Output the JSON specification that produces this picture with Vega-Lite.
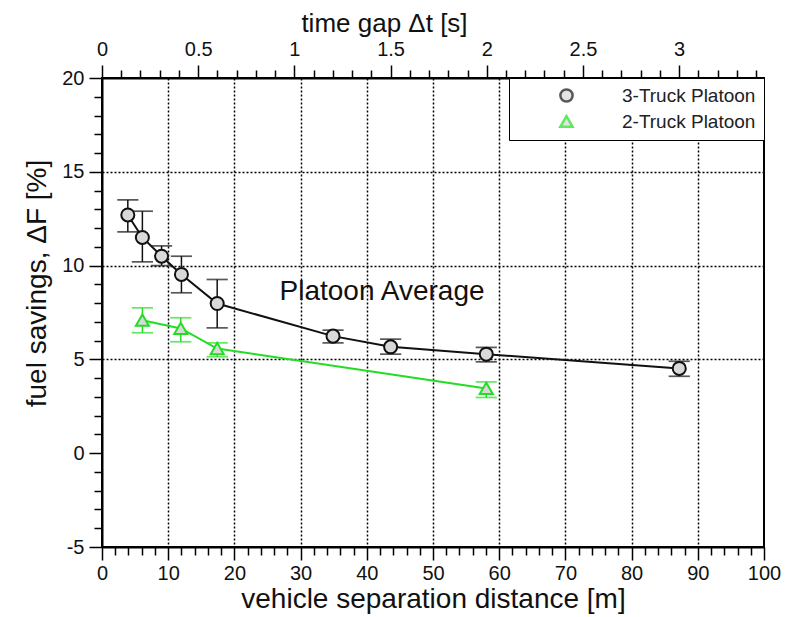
{
  "$schema": "https://vega.github.io/schema/vega-lite/v6.json",
  "width": 662,
  "height": 469,
  "autosize": {"type": "none"},
  "padding": {"left": 102, "top": 78, "right": 28, "bottom": 70},
  "background": "white",
  "config": {
    "font": "Liberation Sans",
    "view": {"stroke": "black", "strokeWidth": 2},
    "axis": {
      "labelFont": "Liberation Sans",
      "titleFont": "Liberation Sans",
      "labelColor": "#111111",
      "titleColor": "#111111",
      "titleFontWeight": "normal",
      "domainColor": "black",
      "domainWidth": 2,
      "tickColor": "black",
      "tickWidth": 1.5,
      "labelFontSize": 20,
      "labelOverlap": false,
      "labelFlush": false
    },
    "legend": {
      "labelFont": "Liberation Sans"
    }
  },
  "datasets": {
    "pts": [
      {"series": "3-Truck Platoon", "dist": 3.9, "fs": 12.7, "lo": 11.8, "hi": 13.5},
      {"series": "3-Truck Platoon", "dist": 6.1, "fs": 11.5, "lo": 10.2, "hi": 12.9},
      {"series": "3-Truck Platoon", "dist": 9.0, "fs": 10.5, "lo": 10.0, "hi": 11.05},
      {"series": "3-Truck Platoon", "dist": 12.0, "fs": 9.53, "lo": 8.55, "hi": 10.5},
      {"series": "3-Truck Platoon", "dist": 17.4, "fs": 7.98, "lo": 6.68, "hi": 9.26},
      {"series": "3-Truck Platoon", "dist": 34.9, "fs": 6.24, "lo": 5.88, "hi": 6.56},
      {"series": "3-Truck Platoon", "dist": 43.6, "fs": 5.67, "lo": 5.28, "hi": 6.08},
      {"series": "3-Truck Platoon", "dist": 58.05, "fs": 5.28, "lo": 4.87, "hi": 5.64},
      {"series": "3-Truck Platoon", "dist": 87.2, "fs": 4.52, "lo": 4.1, "hi": 4.9},
      {"series": "2-Truck Platoon", "dist": 6.1, "fs": 7.09, "lo": 6.42, "hi": 7.75},
      {"series": "2-Truck Platoon", "dist": 11.9, "fs": 6.65, "lo": 5.94, "hi": 7.22},
      {"series": "2-Truck Platoon", "dist": 17.4, "fs": 5.58, "lo": 5.14, "hi": 5.88},
      {"series": "2-Truck Platoon", "dist": 58.05, "fs": 3.45, "lo": 2.97, "hi": 3.8}
    ],
    "note": [{"label": "Platoon Average", "x": 42.3, "y": 8.6}],
    "top": [{"t": 0}]
  },
  "layer": [
    {
      "data": {"name": "pts"},
      "encoding": {
        "x": {
          "field": "dist",
          "type": "quantitative",
          "scale": {"domain": [0, 100], "nice": false, "zero": false},
          "axis": {
            "orient": "bottom",
            "title": "vehicle separation distance [m]",
            "titleFontSize": 28,
            "titlePadding": 2,
            "labelPadding": 3,
            "values": [0,2,4,6,8,10,12,14,16,18,20,22,24,26,28,30,32,34,36,38,40,42,44,46,48,50,52,54,56,58,60,62,64,66,68,70,72,74,76,78,80,82,84,86,88,90,92,94,96,98,100],
            "labelExpr": "datum.value % 10 === 0 ? datum.label : ''",
            "tickSize": {"condition": {"test": "datum.value % 10 === 0", "value": 13}, "value": 8},
            "grid": true,
            "gridColor": "black",
            "gridDash": [2, 2],
            "gridWidth": 1.5,
            "gridOpacity": {"condition": {"test": "datum.value % 10 === 0 && datum.value > 0 && datum.value < 100", "value": 1}, "value": 0}
          }
        },
        "y": {
          "field": "fs",
          "type": "quantitative",
          "scale": {"domain": [-5, 20], "nice": false, "zero": false},
          "axis": {
            "title": "fuel savings, ΔF [%]",
            "titleFontSize": 28,
            "titlePadding": 10,
            "titleY": 205,
            "labelPadding": 5,
            "values": [-5,-4,-3,-2,-1,0,1,2,3,4,5,6,7,8,9,10,11,12,13,14,15,16,17,18,19,20],
            "labelExpr": "datum.value % 5 === 0 ? '' + datum.value : ''",
            "tickSize": {"condition": {"test": "datum.value % 5 === 0", "value": 13}, "value": 8},
            "grid": true,
            "gridColor": "black",
            "gridDash": [2, 2],
            "gridWidth": 1.5,
            "gridOpacity": {"condition": {"test": "datum.value === 5 || datum.value === 10 || datum.value === 15", "value": 1}, "value": 0}
          }
        }
      },
      "layer": [
        {
          "data": {"values": [{}]},
          "mark": {"type": "rule", "color": "black", "strokeWidth": 2.5},
          "encoding": {"x": null, "y": {"datum": 0, "type": "quantitative"}}
        },
        {
          "mark": {"type": "rule", "strokeWidth": 1.5},
          "encoding": {
            "y": {"field": "lo", "type": "quantitative"},
            "y2": {"field": "hi"},
            "color": {"field": "series", "type": "nominal"}
          }
        },
        {
          "mark": {"type": "tick", "orient": "horizontal", "size": 20, "thickness": 0.5, "filled": false, "strokeWidth": 1.2},
          "encoding": {
            "y": {"field": "lo", "type": "quantitative"},
            "color": {"field": "series", "type": "nominal"}
          }
        },
        {
          "mark": {"type": "tick", "orient": "horizontal", "size": 20, "thickness": 0.5, "filled": false, "strokeWidth": 1.2},
          "encoding": {
            "y": {"field": "hi", "type": "quantitative"},
            "color": {"field": "series", "type": "nominal"}
          }
        },
        {
          "mark": {"type": "line", "strokeWidth": 2},
          "encoding": {
            "color": {"field": "series", "type": "nominal"}
          }
        },
        {
          "mark": {"type": "point", "filled": false, "fill": "#d9d9d9", "fillOpacity": 1, "opacity": 1, "strokeWidth": 2, "size": 170},
          "encoding": {
            "color": {
              "field": "series",
              "type": "nominal",
              "title": null,
              "scale": {"domain": ["3-Truck Platoon", "2-Truck Platoon"], "range": ["#111111", "#22dd22"]},
              "legend": {
                "orient": "top-right",
                "offset": 0,
                "fillColor": "white",
                "strokeColor": "black",
                "padding": 8,
                "symbolOffset": 40,
                "labelOffset": 46,
                "labelFontSize": 19,
                "labelColor": "#222222",
                "symbolSize": 150,
                "symbolStrokeWidth": 2.5,
                "symbolFillColor": "#d9d9d9",
                "rowPadding": 4,
                "encode": {
                  "legend": {"update": {"strokeWidth": {"value": 1.5}}},
                  "symbols": {"update": {
                    "fill": {"value": "#d9d9d9"},
                    "fillOpacity": {"value": 1},
                    "strokeWidth": {"value": 2.5},
                    "opacity": {"value": 1}
                  }}
                }
              }
            },
            "shape": {
              "field": "series",
              "type": "nominal",
              "title": null,
              "scale": {"domain": ["3-Truck Platoon", "2-Truck Platoon"], "range": ["circle", "triangle-up"]}
            }
          }
        },
        {
          "data": {"name": "note"},
          "mark": {"type": "text", "fontSize": 28, "color": "#111111", "font": "Liberation Sans", "align": "center", "baseline": "middle"},
          "encoding": {
            "x": {"field": "x", "type": "quantitative"},
            "y": {"field": "y", "type": "quantitative"},
            "text": {"field": "label"}
          }
        }
      ]
    },
    {
      "data": {"name": "top"},
      "mark": {"type": "point", "opacity": 0},
      "encoding": {
        "x": {
          "field": "t",
          "type": "quantitative",
          "scale": {"domain": [0, 3.441], "nice": false, "zero": false},
          "axis": {
            "orient": "top",
            "title": "time gap Δt [s]",
            "titleFontSize": 26,
            "titlePadding": 3,
            "titleX": 282,
            "labelPadding": 6,
            "values": [0,0.1,0.2,0.3,0.4,0.5,0.6,0.7,0.8,0.9,1,1.1,1.2,1.3,1.4,1.5,1.6,1.7,1.8,1.9,2,2.1,2.2,2.3,2.4,2.5,2.6,2.7,2.8,2.9,3,3.1,3.2,3.3,3.4],
            "format": "~g",
            "labelExpr": "round(datum.value * 10) % 5 === 0 ? datum.label : ''",
            "tickSize": {"condition": {"test": "round(datum.value * 10) % 5 === 0", "value": 13}, "value": 8},
            "grid": false
          }
        }
      }
    }
  ],
  "resolve": {"scale": {"x": "independent"}}
}
